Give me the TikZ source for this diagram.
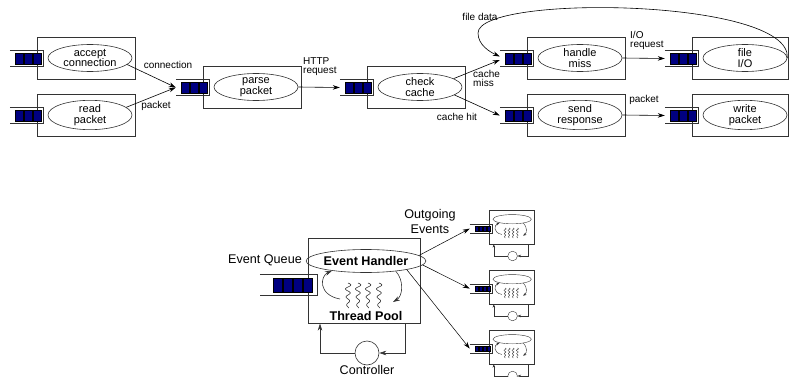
\documentclass[tikz,border=0pt]{standalone}
\usepackage{fontspec}
\setmainfont{Liberation Sans}
\usetikzlibrary{arrows.meta,shapes.geometric,calc}
\definecolor{qblue}{RGB}{0,0,128}
\tikzset{
 sbox/.style={draw=black!80, line width=0.6pt, rectangle, inner sep=0, minimum height=42},
 sell/.style={draw=black!80, line width=0.6pt, ellipse, inner sep=0, minimum width=84, minimum height=27, align=center, font=\fontsize{11}{10.5}\selectfont},
 qn/.style={inner sep=0, minimum width=33, minimum height=15},
 qsq/.style={fill=qblue, draw=black, line width=0.3pt},
 arr/.style={-{Stealth[length=7pt,width=4.5pt]}, line width=0.6pt},
 elab/.style={font=\fontsize{10}{9}\selectfont, align=left, inner sep=0},
 bigu/.style={uline/.style={line width=0.6pt, draw=black!80}, uarr/.style={-{Stealth[length=7pt,width=4.5pt]}}},
 smallu/.style={uline/.style={line width=0.4pt, draw=black!80}, uarr/.style={-{Stealth[length=3.5pt,width=2.5pt]}}},
 ubox/.style={rectangle, uline, inner sep=0},
 uell/.style={ellipse, uline, inner sep=0, minimum width=96, minimum height=23, font=\bfseries\fontsize{12.6}{14}\selectfont},
 bigfont/.style={font=\fontsize{12.6}{15}\selectfont},
}
\newcommand\tstage[5]{%
 \node[sbox, minimum width=#4, anchor=north west] (#1box) at (#2,#3) {};
 \node[sell] (#1) at ({#2+53},{#3+21}) {#5};
 \node[qn] (#1q) at ({#2-10.5},{#3+21.5}) {};
 \draw[black!80, line width=0.6pt] (#1q.north west) -- (#1q.north east) -- (#1q.south east) -- (#1q.south west);
 \foreach \i in {0,1,2} \filldraw[qsq] ({#2-22+9*\i},{#3+16}) rectangle ++(8,11);
}
\newcommand\bunit[7]{%
 \begin{scope}[shift={(#2,#3)}, scale=#4, transform shape, #7]
 \node[ubox, minimum width=112, minimum height=85, anchor=north west] (#1box) at (0,0) {};
 \node[uell] (#1eh) at (58,23) {#5};
 \node[inner sep=0, minimum width=57, minimum height=21] (#1q) at (-19.5,46.5) {};
 \draw[uline] (#1q.north west) -- (#1q.north east) -- (#1q.south east) -- (#1q.south west);
 \foreach \i in {0,...,3} \filldraw[qsq] ({-35+10*\i},40) rectangle ++(9,14);
 \foreach \sx in {40,50,60,71} \draw[uline] plot[domain=0:25, samples=60, smooth] ({\sx+3*(1-\x/40)*sin(\x*45)}, {45+\x});
 \draw[uline, uarr] (32,61) .. controls (10,57) and (12,38) .. (#1eh.-164);
 \draw[uline, uarr] (#1eh.-19) .. controls (96,42) and (95,58) .. (85,64);
 \node[inner sep=0, font=\bfseries\fontsize{12.6}{14}\selectfont] at (58,78) {#6};
 \node[circle, uline, minimum size=24, inner sep=0] (#1ctl) at (59,115) {};
 \coordinate (#1cr) at (97,115);
 \coordinate (#1cl) at (12,115);
 \draw[uline, uarr] (#1box.south -| #1cr) -- (#1cr) -- (#1ctl.east);
 \draw[uline, uarr] (#1ctl.west) -- (#1cl) -- (#1box.south -| #1cl);
 \end{scope}
}
\begin{document}
\begin{tikzpicture}[x=1pt,y=-1pt]
\useasboundingbox (0,0) rectangle (789,377);
% ---- top pipeline ----
\tstage{acc}{37}{37}{98}{accept\\connection}
\tstage{rd}{37}{94}{98}{read\\packet}
\tstage{pp}{203}{66}{98}{parse\\packet}
\tstage{ck}{367}{66}{98}{check\\cache}
\tstage{hm}{527}{37}{98}{handle\\miss}
\tstage{sr}{527}{94}{98}{send\\response}
\tstage{fio}{692}{37}{96}{file\\I/O}
\tstage{wp}{692}{94}{96}{write\\packet}
\draw[arr] (acc.-10) -- (ppq.west);
\draw[arr] (rd.12) -- (ppq.west);
\draw[arr] (pp.east) -- (ckq.west);
\draw[arr] (ck.14) -- ([yshift=-1.5pt]hmq.west);
\draw[arr] (ck.-13) -- (srq.west);
\draw[arr] (hm.east) -- (fioq.west);
\draw[arr] (sr.east) -- (wpq.west);
\coordinate (fdl) at (478,33);
\draw[arr] (fio.east) .. controls (792,-2) and (478,-6) .. (fdl) .. controls (478,45) and (490,52) .. ([yshift=2pt]hmq.west);
\node[elab] at (168,65) {connection};
\node[elab] at (156,106) {packet};
\node[elab, anchor=west] at (303,67) {HTTP\\request};
\node[elab, anchor=west] at (473,78) {cache\\miss};
\node[elab] at (457,117) {cache hit};
\node[elab] at (480,17) {file data};
\node[elab, anchor=west] at (630,40) {I/O\\request};
\node[elab] at (644,100) {packet};
% ---- bottom: stage structure ----
\bunit{m}{308}{238}{1}{Event Handler}{Thread Pool}{bigu}
\bunit{sa}{489}{210}{0.4}{}{}{smallu}
\bunit{sb}{489}{270}{0.4}{}{}{smallu}
\bunit{sc}{489}{330}{0.4}{}{}{smallu}
\node[bigfont] at (265,260) {Event Queue};
\node[bigfont, align=center] at (430,221) {Outgoing\\Events};
\node[bigfont] at (367,369.5) {Controller};
\draw[arr, line width=0.5pt] (meh.6) -- (saq.west);
\draw[arr, line width=0.5pt] (meh.-4) -- (sbq.west);
\draw[arr, line width=0.5pt] (meh.-12) -- (scq.west);
\end{tikzpicture}
\end{document}
